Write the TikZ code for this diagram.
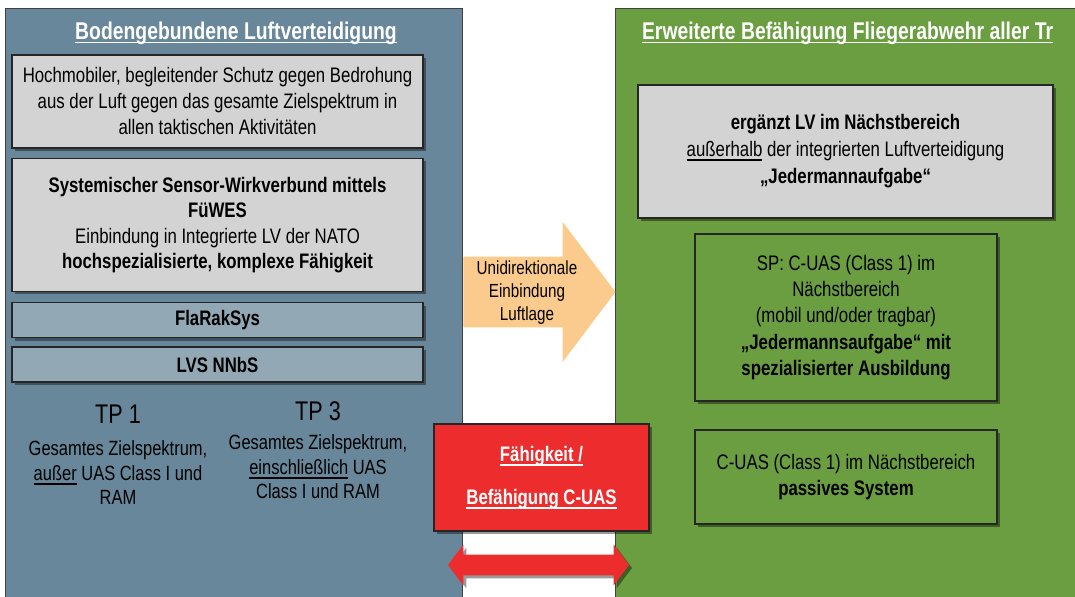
\documentclass[tikz,border=0pt]{standalone}
\usepackage{fontspec}
\setmainfont{Liberation Sans}[FakeStretch=0.8]
\usepackage{tikz}
\usetikzlibrary{positioning,shapes.arrows,shadows}
\definecolor{panelblue}{RGB}{104,135,154}
\definecolor{panelgreen}{RGB}{106,158,64}
\definecolor{boxgray}{RGB}{211,211,211}
\definecolor{barblue}{RGB}{146,168,181}
\definecolor{alarmred}{RGB}{237,45,45}
\definecolor{lightorange}{RGB}{251,203,142}
\newsavebox\ulbox
\newcommand{\uln}[1]{\sbox\ulbox{#1}\rlap{\vrule height -1.3pt depth 2.1pt width \wd\ulbox}\usebox\ulbox}

\begin{document}
\begin{tikzpicture}[x=0.5pt,y=-0.5pt,node distance=4.5pt,
		box shadow/.style={drop shadow={shadow xshift=1.5pt,shadow yshift=-1.5pt,opacity=0.4,fill=black}},
		panel node/.style={draw=black!75,line width=0.5pt,anchor=north west,inner sep=0pt},
		main node/.style={draw=black!85,line width=0.7pt,box shadow,align=center,inner sep=0pt,font=\fontsize{10.5}{13}\selectfont},
		title node/.style={text=white,font=\bfseries\fontsize{12.1}{14}\selectfont},
		tp head/.style={font=\fontsize{13.5}{16}\selectfont},
		tp node/.style={align=center,font=\fontsize{10.3}{12.25}\selectfont}]
		
		\useasboundingbox (0,0) rectangle (1075,597);
		\clip (0,0) rectangle (1075,597);
		
		% panels
		\node[panel node, fill=panelblue, minimum width=228.5pt, minimum height=300pt] (lv panel) at (5,8) {};
		\node[panel node, fill=panelgreen, minimum width=240pt, minimum height=300pt] (fa panel) at (615,8) {};
		\node[title node] (lv title) at (236,33) {\uln{Bodengebundene Luftverteidigung}};
		\node[title node, anchor=west] (fa title) at (635,33) {\uln{Erweiterte Befähigung Fliegerabwehr aller Tr}};
		
		% left side
		\node[main node, fill=boxgray, minimum width=205.5pt, minimum height=46.5pt] (threat box) at (217.5,101.5)
		{Hochmobiler, begleitender Schutz gegen Bedrohung\\aus der Luft gegen das gesamte Zielspektrum in\\allen taktischen Aktivitäten};
		\node[main node, fill=boxgray, minimum width=205.5pt, minimum height=66.5pt, font=\fontsize{10.5}{12.75}\selectfont] (sensor box) [below=of threat box]
		{\textbf{Systemischer Sensor-Wirkverbund mittels}\\\textbf{FüWES}\\Einbindung in Integrierte LV der NATO\\\textbf{hochspezialisierte, komplexe Fähigkeit}};
		\node[main node, fill=barblue, minimum width=205.5pt, minimum height=17.5pt, font=\bfseries\fontsize{10.5}{13}\selectfont] (flarak box) [below=5pt of sensor box] {FlaRakSys};
		\node[main node, fill=barblue, minimum width=205.5pt, minimum height=17.5pt, font=\bfseries\fontsize{10.5}{13}\selectfont] (lvs box) [below=4pt of flarak box] {LVS NNbS};
		
		\node[tp head] (tp one) at (118,414) {TP 1};
		\node[tp node] (tp one text) at (118,473) {Gesamtes Zielspektrum,\\\uln{außer} UAS Class I und\\RAM};
		\node[tp head] (tp three) at (318,411) {TP 3};
		\node[tp node] (tp three text) at (318,467) {Gesamtes Zielspektrum,\\\uln{einschließlich} UAS\\Class I und RAM};
		
		% middle
		\node[single arrow, fill=lightorange, minimum height=76pt, inner xsep=0pt, inner ysep=17.5pt,
		single arrow head extend=17.25pt, single arrow tip angle=106, anchor=tail] (feed arrow) at (463,292) {};
		\node[align=center, font=\fontsize{9.5}{11.5}\selectfont] (feed text) at (527,293) {Unidirektionale\\Einbindung\\Luftlage};
		
		\node[main node, fill=alarmred, minimum width=107.5pt, minimum height=53.5pt, text=white,
		font=\bfseries\fontsize{10.5}{21.5}\selectfont] (cuas box) at (541.5,477.5) {\uln{Fähigkeit /}\\\uln{Befähigung C-UAS}};
		\node[double arrow, fill=alarmred, box shadow, minimum height=90.5pt, inner xsep=0pt, inner ysep=5pt,
		double arrow head extend=5pt, double arrow tip angle=106] (link arrow) at (538.5,565) {};
		
		% right side
		\node[main node, fill=boxgray, minimum width=207.5pt, minimum height=66.5pt, font=\fontsize{10.5}{13.5}\selectfont] (extra box) at (845.5,151.5)
		{\textbf{ergänzt LV im Nächstbereich}\\\uln{außerhalb} der integrierten Luftverteidigung\\\textbf{„Jedermannaufgabe“}};
		\node[main node, fill=panelgreen, minimum width=151pt, minimum height=83.5pt, font=\fontsize{10.5}{13.2}\selectfont] (sp box) at (846,317.5)
		{SP: C-UAS (Class 1) im\\Nächstbereich\\(mobil und/oder tragbar)\\\textbf{„Jedermannsaufgabe“ mit}\\\textbf{spezialisierter Ausbildung}};
		\node[main node, fill=panelgreen, minimum width=151pt, minimum height=47pt] (passive box) at (846,477)
		{C-UAS (Class 1) im Nächstbereich\\\textbf{passives System}};
		
\end{tikzpicture}
\end{document}
